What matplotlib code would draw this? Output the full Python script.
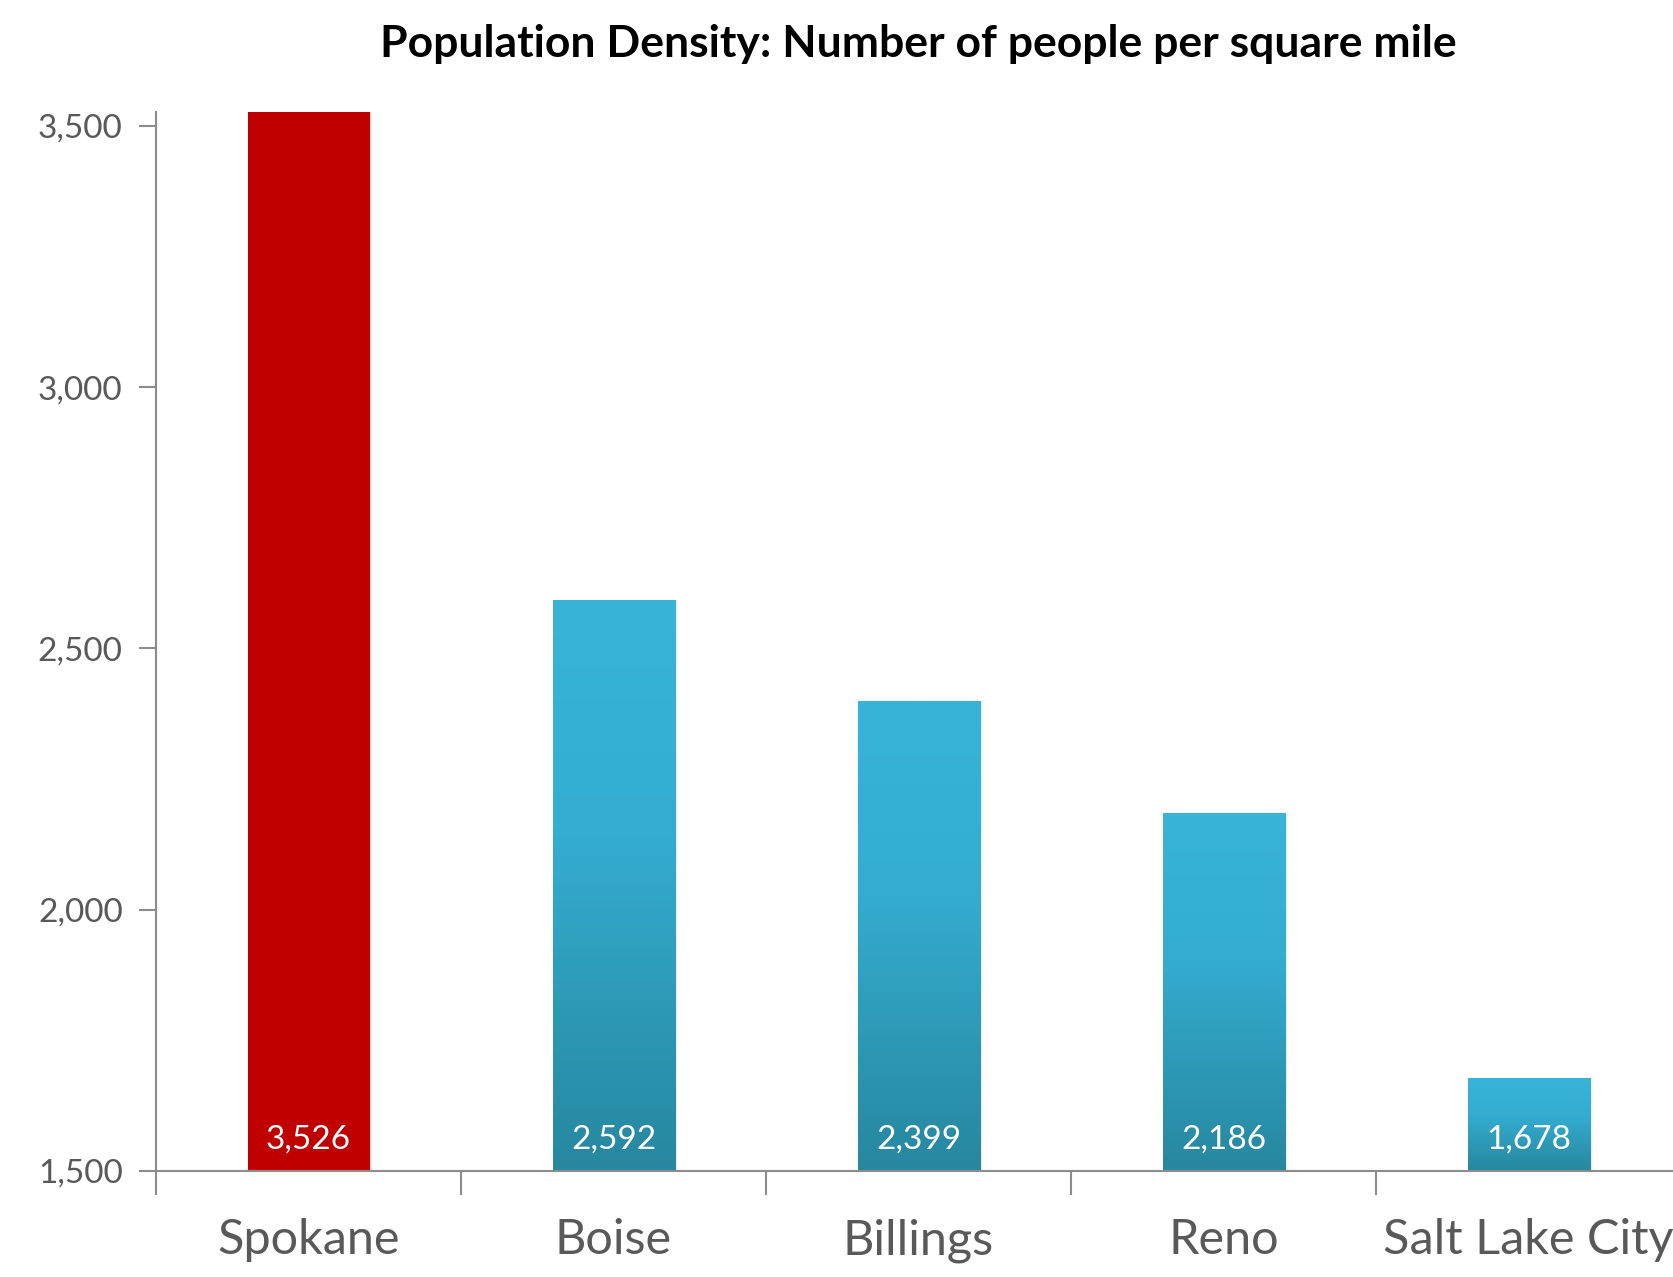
import numpy as np
import matplotlib
matplotlib.use("Agg")
import matplotlib.pyplot as plt
from matplotlib.colors import LinearSegmentedColormap
from matplotlib.patches import Rectangle
from matplotlib.ticker import FuncFormatter, FixedLocator

plt.rcParams['font.family'] = ['Lato', 'DejaVu Sans']

# data
cities = ["Spokane", "Boise", "Billings", "Reno", "Salt Lake City"]
density = [3526, 2592, 2399, 2186, 1678]
yticks = [1500, 2000, 2500, 3000, 3500]
title = "Population Density: Number of people per square mile"

red = "#C00000"
axis_grey = "#8C8C8C"
text_grey = "#595959"
blue_cmap = LinearSegmentedColormap.from_list(
    "bluebar", [(0.0, "#27879F"), (0.6, "#34ADD1"), (1.0, "#37B4D8")])

fig = plt.figure(figsize=(16.74, 12.77), dpi=100)
ax = fig.add_axes([0.0932, 0.083, 0.911, 0.829])

ymin, ymax = 1500, 3526
bar_w = 0.40
x = np.arange(len(cities))

bars = ax.bar(x, np.array(density) - ymin, bottom=ymin, width=bar_w,
              color="none", edgecolor="none", zorder=3)

grad = np.linspace(0, 1, 256).reshape(-1, 1)
for i, (b, v) in enumerate(zip(bars, density)):
    x0 = b.get_x()
    # soft shadow to the right
    for k, a in enumerate([0.08, 0.05, 0.025]):
        sh = Rectangle((x0 + 0.004 * (k + 1), ymin), bar_w, v - ymin,
                       facecolor="#000000", alpha=a, edgecolor="none", zorder=2)
        ax.add_patch(sh)
    if i == 0:
        r = Rectangle((x0, ymin), bar_w, v - ymin, facecolor=red,
                      edgecolor="none", zorder=3)
        ax.add_patch(r)
    else:
        r = Rectangle((x0, ymin), bar_w, v - ymin, facecolor="none",
                      edgecolor="none", zorder=3)
        ax.add_patch(r)
        im = ax.imshow(grad, cmap=blue_cmap, origin="lower", aspect="auto",
                       extent=[x0, x0 + bar_w, ymin, v], zorder=3)
        im.set_clip_path(r)
    ax.annotate(f"{v:,}", (x[i], ymin), xytext=(0, 12), textcoords="offset points",
                ha="center", va="bottom", color="white", fontsize=24, zorder=4)

ax.set_xlim(-0.5, 4.5)
ax.set_ylim(ymin, ymax)

ax.set_xticks(x)
ax.set_xticklabels(cities)
ax.xaxis.set_minor_locator(FixedLocator(np.arange(-0.5, 4.6, 1.0)))
ax.tick_params(axis="x", which="major", length=0, pad=34, labelsize=35,
               labelcolor=text_grey)
ax.tick_params(axis="x", which="minor", length=17, width=1.5, color=axis_grey,
               direction="out")

ax.set_yticks(yticks)
ax.yaxis.set_major_formatter(FuncFormatter(lambda v, p: f"{int(v):,}"))
ax.tick_params(axis="y", length=12, width=1.5, color=axis_grey, pad=12,
               labelsize=24, labelcolor=text_grey)

for s in ["top", "right"]:
    ax.spines[s].set_visible(False)
for s in ["left", "bottom"]:
    ax.spines[s].set_color(axis_grey)
    ax.spines[s].set_linewidth(1.5)
ax.spines["bottom"].set_zorder(5)

ax.set_title(title, fontsize=32, fontweight="bold", color="black", pad=40)

fig.savefig("out.png", dpi=100)
